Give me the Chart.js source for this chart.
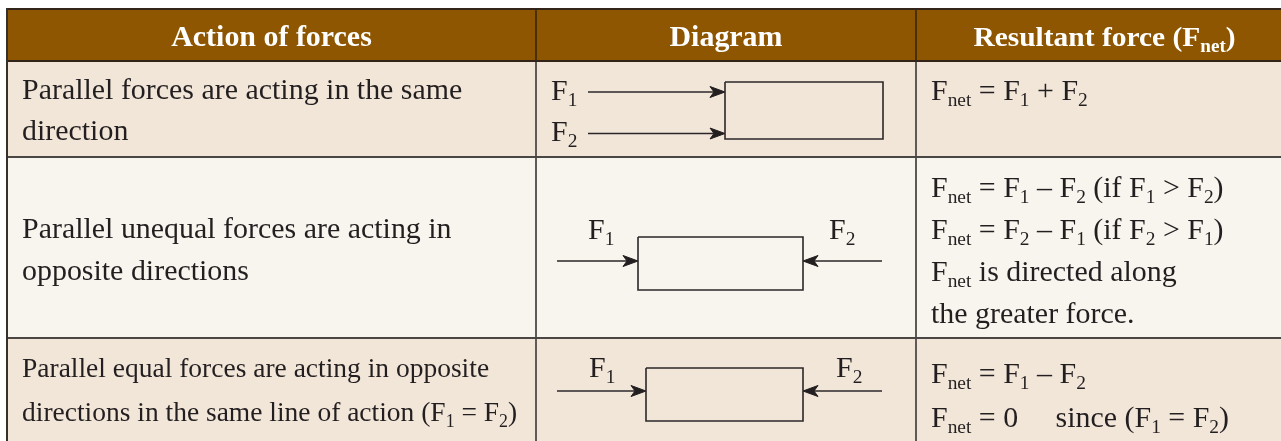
<!DOCTYPE html>
<html>
<head>
<meta charset="utf-8">
<script src="https://cdn.jsdelivr.net/npm/chart.js@4"></script>
<style>
html,body{margin:0;padding:0;background:#ffffff;}
canvas{display:block;}
</style>
</head>
<body>
<canvas id="c" width="1281" height="441"></canvas>
<script>
// ---------------- DATA ----------------
const headers = ['Action of forces', 'Diagram', 'Resultant force (F_{net})'];
const actions = [
  ['Parallel forces are acting in the same', 'direction'],
  ['Parallel unequal forces are acting in', 'opposite directions'],
  ['Parallel equal forces are acting in opposite', 'directions in the same line of action (F_{1} = F_{2})']
];
const resultants = [
  ['F_{net} = F_{1} + F_{2}'],
  ['F_{net} = F_{1} \u2013 F_{2} (if F_{1} > F_{2})',
   'F_{net} = F_{2} \u2013 F_{1} (if F_{2} > F_{1})',
   'F_{net} is directed along',
   'the greater force.'],
  ['F_{net} = F_{1} \u2013 F_{2}',
   'F_{net} = 0\u2003 since (F_{1} = F_{2})']
];
const forceLabels = [
  ['F_{1}', 'F_{2}'],
  ['F_{1}', 'F_{2}'],
  ['F_{1}', 'F_{2}']
];

// ---------------- LAYOUT (positions / sizes / styles) ----------------
const W = 1281, H = 441;
const colEdges = [7, 536, 916, 1281];
const rowEdges = [9, 61, 157, 338, 470];
const rowFills = ['#8e5600', '#f2e6d9', '#f8f4ee', '#f2e6d9'];
const TEXT = '#231f20';
const FONT = '"Liberation Serif", "Times New Roman", serif';
const SIZE = 28.5, SUB = 18.5, SUBDY = 6, STRETCH = 1.05;
const leftScale = [1, 1, 0.97];
const leftStretch = [1.05, 1.05, 0.995];
const headerBaseline = 46;
const leftX = 22, rightX = 931;
const leftBaselines = [[98.5, 140], [238, 280], [377, 421]];
const rightBaselines = [[100], [197, 239, 281, 323], [383, 427]];
// diagram geometry in data units (1 unit = 1 px)
const diagramRects = [
  {x0: 725, x1: 883, y0: 82, y1: 139},
  {x0: 638, x1: 803, y0: 237, y1: 290},
  {x0: 646, x1: 803, y0: 368, y1: 421}
];
const diagramArrows = [
  [{from: 588, to: 725, y: 92}, {from: 588, to: 725, y: 133.5}],
  [{from: 557, to: 638, y: 261}, {from: 882, to: 803, y: 261}],
  [{from: 557, to: 646, y: 391}, {from: 882, to: 803, y: 391}]
];
const labelPos = [
  [{x: 551, y: 100}, {x: 551, y: 141}],
  [{x: 588, y: 239}, {x: 829, y: 239}],
  [{x: 589, y: 377}, {x: 836, y: 377}]
];
const HEAD_LEN = 15, HEAD_HALF = 5.5, HEAD_NOTCH = 4;

// ---------------- DATASETS ----------------
const datasets = [];
diagramRects.forEach(r => {
  datasets.push({
    type: 'line',
    data: [{x: r.x0, y: r.y0}, {x: r.x1, y: r.y0}, {x: r.x1, y: r.y1}, {x: r.x0, y: r.y1}, {x: r.x0, y: r.y0}],
    borderColor: '#2b2728', borderWidth: 1.6, pointRadius: 0, fill: false, tension: 0
  });
});
diagramArrows.forEach(list => list.forEach(a => {
  const dir = a.to > a.from ? 1 : -1;
  const notchX = a.to - dir * (HEAD_LEN - HEAD_NOTCH);
  datasets.push({
    type: 'line',
    data: [{x: a.from, y: a.y}, {x: notchX, y: a.y}],
    borderColor: '#2b2728', borderWidth: 1.6, pointRadius: 0, fill: false, tension: 0
  });
  datasets.push({
    type: 'line',
    data: [
      {x: a.to, y: a.y},
      {x: a.to - dir * HEAD_LEN, y: a.y - HEAD_HALF},
      {x: a.to - dir * (HEAD_LEN - HEAD_NOTCH), y: a.y},
      {x: a.to - dir * HEAD_LEN, y: a.y + HEAD_HALF},
      {x: a.to, y: a.y}
    ],
    borderColor: '#231f20', borderWidth: 1, backgroundColor: '#231f20',
    pointRadius: 0, fill: 'shape', tension: 0
  });
}));

// ---------------- RICH TEXT ----------------
function parseRich(s) {
  const parts = s.split(/_\{([^}]*)\}/);
  return parts.map((t, i) => ({t, sub: i % 2 === 1})).filter(p => p.t.length);
}
function fontFor(sub, bold, k) {
  return (bold ? 'bold ' : '') + ((sub ? SUB : SIZE) * k) + 'px ' + FONT;
}
function richWidth(ctx, s, bold, k, st) {
  let w = 0;
  parseRich(s).forEach(p => { ctx.font = fontFor(p.sub, bold, k); w += ctx.measureText(p.t).width; });
  return w * st;
}
function drawRich(ctx, s, x, y, bold, color, align, k, st) {
  k = k || 1;
  st = st || STRETCH;
  let start = x;
  if (align === 'center') start = x - richWidth(ctx, s, bold, k, st) / 2;
  ctx.save();
  ctx.translate(start, y);
  ctx.scale(st, 1);
  ctx.fillStyle = color;
  ctx.textBaseline = 'alphabetic';
  ctx.textAlign = 'left';
  let cx = 0;
  parseRich(s).forEach(p => {
    ctx.font = fontFor(p.sub, bold, k);
    ctx.fillText(p.t, cx, p.sub ? SUBDY * k : 0);
    cx += ctx.measureText(p.t).width;
  });
  ctx.restore();
}

// ---------------- PLUGIN: table cells + text ----------------
const tablePlugin = {
  id: 'table',
  beforeDatasetsDraw(chart) {
    const ctx = chart.ctx, xs = chart.scales.x, ys = chart.scales.y;
    const px = v => xs.getPixelForValue(v), py = v => ys.getPixelForValue(v);
    ctx.save();
    for (let r = 0; r < rowEdges.length - 1; r++) {
      ctx.fillStyle = rowFills[r];
      ctx.fillRect(px(colEdges[0]), py(rowEdges[r]), px(colEdges[3]) - px(colEdges[0]), py(rowEdges[r + 1]) - py(rowEdges[r]));
    }
    ctx.lineWidth = 2;
    for (let c = 1; c < colEdges.length - 1; c++) {
      ctx.strokeStyle = '#4a2e08';
      ctx.beginPath(); ctx.moveTo(px(colEdges[c]), py(rowEdges[0])); ctx.lineTo(px(colEdges[c]), py(rowEdges[1])); ctx.stroke();
      ctx.strokeStyle = '#5f5a57';
      ctx.beginPath(); ctx.moveTo(px(colEdges[c]), py(rowEdges[1])); ctx.lineTo(px(colEdges[c]), py(rowEdges[4])); ctx.stroke();
    }
    for (let r = 0; r < rowEdges.length - 1; r++) {
      ctx.strokeStyle = r <= 1 ? '#33241a' : '#4a4644';
      ctx.beginPath(); ctx.moveTo(px(colEdges[0]) - 1, py(rowEdges[r])); ctx.lineTo(px(colEdges[3]), py(rowEdges[r])); ctx.stroke();
    }
    ctx.strokeStyle = '#33302e';
    ctx.beginPath(); ctx.moveTo(px(colEdges[0]), py(rowEdges[0]) - 1); ctx.lineTo(px(colEdges[0]), py(rowEdges[4])); ctx.stroke();
    ctx.restore();
  },
  afterDatasetsDraw(chart) {
    const ctx = chart.ctx, xs = chart.scales.x, ys = chart.scales.y;
    const px = v => xs.getPixelForValue(v), py = v => ys.getPixelForValue(v);
    headers.forEach((h, i) => {
      const cxm = (colEdges[i] + colEdges[i + 1]) / 2 + (i === 2 ? 6 : 0);
      drawRich(ctx, h, px(cxm), py(headerBaseline), true, '#ffffff', 'center', i === 2 ? 0.985 : 1);
    });
    actions.forEach((lines, r) => lines.forEach((ln, k) => {
      drawRich(ctx, ln, px(leftX), py(leftBaselines[r][k]), false, TEXT, 'left', leftScale[r], leftStretch[r]);
    }));
    resultants.forEach((lines, r) => lines.forEach((ln, k) => {
      drawRich(ctx, ln, px(rightX), py(rightBaselines[r][k]), false, TEXT, 'left', 1);
    }));
    forceLabels.forEach((labs, r) => labs.forEach((lb, k) => {
      drawRich(ctx, lb, px(labelPos[r][k].x), py(labelPos[r][k].y), false, TEXT, 'left', 1);
    }));
  }
};

new Chart(document.getElementById('c'), {
  type: 'scatter',
  data: {datasets},
  options: {
    responsive: false,
    animation: false,
    devicePixelRatio: 1,
    events: [],
    layout: {padding: 0},
    plugins: {legend: {display: false}, tooltip: {enabled: false}},
    scales: {
      x: {type: 'linear', min: 0, max: W, display: false},
      y: {type: 'linear', min: 0, max: H, reverse: true, display: false}
    }
  },
  plugins: [tablePlugin]
});
</script>
</body>
</html>
